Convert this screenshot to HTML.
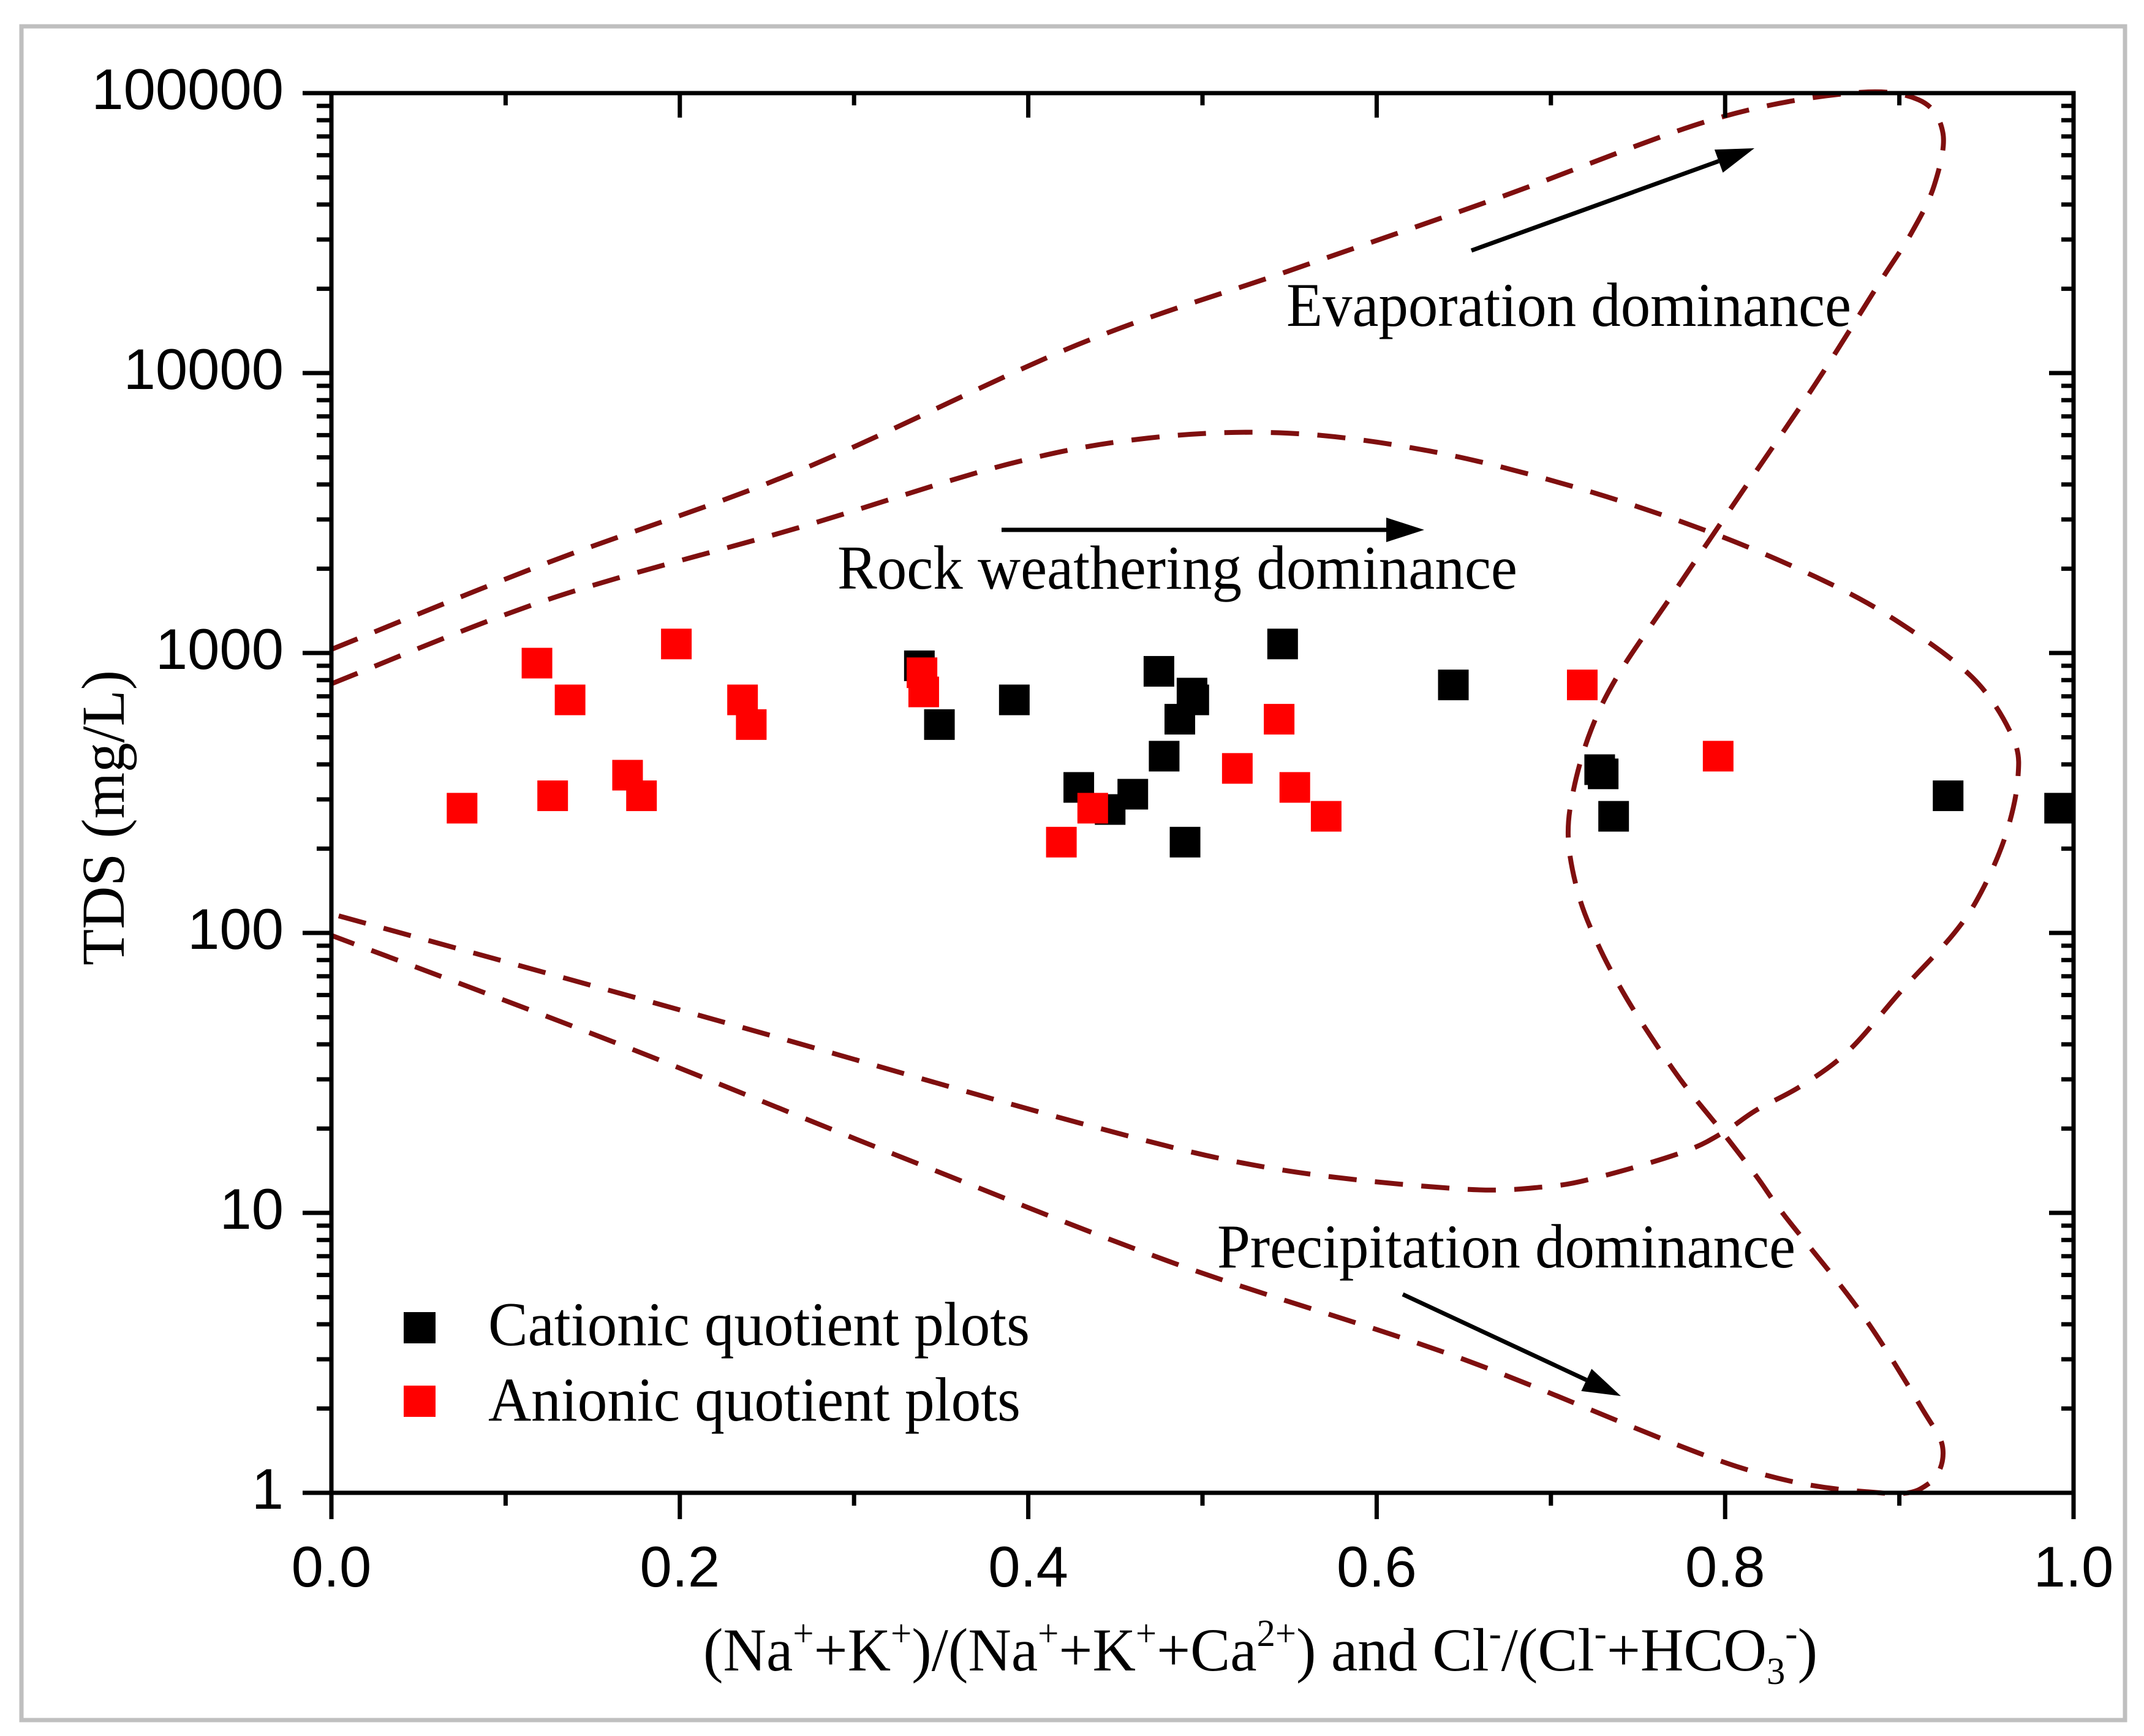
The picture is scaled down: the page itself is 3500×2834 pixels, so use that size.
<!DOCTYPE html>
<html><head><meta charset="utf-8"><style>
html,body{margin:0;padding:0;background:#fff;}
svg{display:block;}
.tick{font-family:"Liberation Sans",Arial,sans-serif;font-size:94px;fill:#000;}
.serif{font-family:"Liberation Serif","Times New Roman",serif;fill:#000;}
</style></head><body>
<svg id="chart" width="3500" height="2834" viewBox="0 0 3500 2834" xmlns="http://www.w3.org/2000/svg">
<rect x="35" y="43" width="3434" height="2765" fill="#fff" stroke="#bfbfbf" stroke-width="7"/>
<g id="curves"></g>
<g id="points"></g>
<g id="axes"></g>
<g>
<text class="serif" x="2100" y="532" font-size="102" textLength="922" lengthAdjust="spacingAndGlyphs">Evaporation dominance</text>
<text class="serif" x="1367" y="961" font-size="102" textLength="1110" lengthAdjust="spacingAndGlyphs">Rock weathering dominance</text>
<text class="serif" x="1987" y="2069" font-size="102" textLength="944" lengthAdjust="spacingAndGlyphs">Precipitation dominance</text>
<g id="arrows"></g>
</g>
<g>
<rect x="659" y="2142" width="52" height="51" fill="#000"/>
<text class="serif" x="797" y="2196" font-size="102" textLength="884" lengthAdjust="spacingAndGlyphs">Cationic quotient plots</text>
<rect x="659" y="2262" width="52" height="51" fill="#ff0000"/>
<text class="serif" x="797" y="2319" font-size="102" textLength="869" lengthAdjust="spacingAndGlyphs">Anionic quotient plots</text>
</g>
<text class="serif" font-size="100" text-anchor="middle" transform="translate(202,1335) rotate(-90)" textLength="482" lengthAdjust="spacingAndGlyphs">TDS (mg/L)</text>
<text class="serif" x="1148" y="2727" font-size="100" textLength="1819" lengthAdjust="spacingAndGlyphs">(Na<tspan font-size="62" dy="-40">+</tspan><tspan dy="40">+K</tspan><tspan font-size="62" dy="-40">+</tspan><tspan dy="40">)/(Na</tspan><tspan font-size="62" dy="-40">+</tspan><tspan dy="40">+K</tspan><tspan font-size="62" dy="-40">+</tspan><tspan dy="40">+Ca</tspan><tspan font-size="62" dy="-40">2+</tspan><tspan dy="40">) and Cl</tspan><tspan font-size="62" dy="-40">-</tspan><tspan dy="40">/(Cl</tspan><tspan font-size="62" dy="-40">-</tspan><tspan dy="40">+HCO</tspan><tspan font-size="62" dy="22">3</tspan><tspan font-size="62" dy="-62">-</tspan><tspan dy="40">)</tspan></text>
</svg>
<script>
// ---- data ----
const cationX = [0.3375,0.349,0.392,0.429,0.447,0.460,0.475,0.478,0.487,0.494,0.495,0.490,0.546,0.644,0.728,0.730,0.736,0.928,0.992];
const cationTDS = [900,555,680,331,276,313,860,428,580,719,680,211,1077,769,383,370,261,309,279];
const anionX = [0.075,0.118,0.127,0.137,0.170,0.178,0.198,0.236,0.241,0.339,0.340,0.419,0.437,0.520,0.544,0.553,0.571,0.718,0.796];
const anionTDS = [279,920,309,680,366,309,1077,680,555,850,726,211,279,387,580,331,261,769,428];
const outerX = [0,0.124,0.267,0.428,0.549,0.671,0.792,0.872,0.911,0.925,0.920,0.907,0.889,0.852,0.808,0.771,0.739,0.723,0.713,0.710,0.716,0.727,0.741,0.757,0.776,0.798,0.818,0.834,0.878,0.913,0.925,0.917,0.889,0.807,0.646,0.484,0.323,0.161,0];
const outerTDS = [1030,2100,4440,12600,23100,42500,80100,100000,94700,72100,46800,31700,21200,9180,3630,1660,843,530,325,216,136,91,62,43,29,19.6,13.5,9.8,4.4,2.0,1.43,1.08,1.0,1.24,3.06,6.6,16.2,41,98];
const innerX = [0,0.124,0.267,0.388,0.469,0.549,0.630,0.711,0.788,0.852,0.897,0.942,0.965,0.968,0.961,0.947,0.931,0.901,0.871,0.844,0.818,0.799,0.776,0.729,0.697,0.646,0.538,0.430,0.215,0];
const innerTDS = [776,1550,2790,4720,5860,6100,5270,3960,2750,1870,1320,817,501,354,223,140,99,62,38,28.5,23.3,19.4,16.5,13.5,12.4,12.2,14.5,20.9,50,117];
const xTicks = [0,0.2,0.4,0.6,0.8,1.0];
const xTickLabels = ["0.0","0.2","0.4","0.6","0.8","1.0"];
const yTicks = [1,10,100,1000,10000,100000];
const yTickLabels = ["1","10","100","1000","10000","100000"];

// ---- scales ----
const X0=541,X1=3385,Y0=2437,Y1=152;
function sx(v){return X0+v*(X1-X0);}
function sy(v){return Y0-(Math.log10(v)/5)*(Y0-Y1);}
const NS="http://www.w3.org/2000/svg";
function mk(tag,attrs,parent){const e=document.createElementNS(NS,tag);for(const k in attrs)e.setAttribute(k,attrs[k]);parent.appendChild(e);return e;}

function smooth(xs,ys){
  const p=xs.map((x,i)=>[sx(x),sy(ys[i])]);
  let d="M"+p[0][0]+","+p[0][1];
  for(let i=0;i<p.length-1;i++){
    const a=p[Math.max(0,i-1)],b=p[i],c=p[i+1],e=p[Math.min(p.length-1,i+2)];
    const c1=[b[0]+(c[0]-a[0])/6,b[1]+(c[1]-a[1])/6],c2=[c[0]-(e[0]-b[0])/6,c[1]-(e[1]-b[1])/6];
    d+=" C"+c1[0].toFixed(1)+","+c1[1].toFixed(1)+" "+c2[0].toFixed(1)+","+c2[1].toFixed(1)+" "+c[0].toFixed(1)+","+c[1].toFixed(1);
  }
  return d;
}
const cg=document.getElementById('curves');
const c1=mk('path',{d:smooth(outerX,outerTDS),fill:"none",stroke:"#7f0f0f","stroke-width":8,"stroke-dasharray":"46 30"},cg);


const c2=mk('path',{d:smooth(innerX,innerTDS),fill:"none",stroke:"#7f0f0f","stroke-width":8,"stroke-dasharray":"46 30"},cg);



const pg=document.getElementById('points');
const S=50;
cationX.forEach((x,i)=>{
  const r=mk('rect',{x:sx(x)-S/2,y:sy(cationTDS[i])-S/2,width:S,height:S,fill:"#000"},pg);
  
  
});
anionX.forEach((x,i)=>{
  const r=mk('rect',{x:sx(x)-S/2,y:sy(anionTDS[i])-S/2,width:S,height:S,fill:"#ff0000"},pg);
  
  
});

const ag=document.getElementById('arrows');
function arrow(x1,y1,x2,y2,name){
  const g=mk('g',{},ag);
  
  
  const dx=x2-x1,dy=y2-y1,L=Math.hypot(dx,dy),ux=dx/L,uy=dy/L,h=62,w=20;
  const bx=x2-ux*h,by=y2-uy*h;
  mk('line',{x1:x1,y1:y1,x2:bx,y2:by,stroke:"#000","stroke-width":7},g);
  mk('polygon',{points:`${x2},${y2} ${bx-uy*w},${by+ux*w} ${bx+uy*w},${by-ux*w}`,fill:"#000"},g);
}
arrow(2402,409,2864,242,'evaporation-arrow');
arrow(1635,865,2325,865,'rock-weathering-arrow');
arrow(2290,2113,2646,2279,'precipitation-arrow');

const ax=document.getElementById('axes');
const LW=7;
const frame=mk('rect',{x:X0,y:Y1,width:X1-X0,height:Y0-Y1,fill:"none",stroke:"#000","stroke-width":LW},ax);


for(let i=0;i<=10;i++){
  const v=i/10,x=sx(v),maj=(i%2===0);
  mk('line',{x1:x,y1:Y0,x2:x,y2:Y0+(maj?43:21),stroke:"#000","stroke-width":LW},ax);
  mk('line',{x1:x,y1:Y1,x2:x,y2:Y1+(maj?40:20),stroke:"#000","stroke-width":LW},ax);
}
for(let e=0;e<5;e++){
  for(let m=1;m<=9;m++){
    const v=Math.pow(10,e)*m,y=sy(v),maj=(m===1);
    mk('line',{x1:X0,y1:y,x2:X0-(maj?47:24),y2:y,stroke:"#000","stroke-width":LW},ax);
    mk('line',{x1:X1,y1:y,x2:X1-(maj?40:20),y2:y,stroke:"#000","stroke-width":LW},ax);
  }
}
mk('line',{x1:X0,y1:Y1,x2:X0-47,y2:Y1,stroke:"#000","stroke-width":LW},ax);
mk('line',{x1:X1,y1:Y1,x2:X1-40,y2:Y1,stroke:"#000","stroke-width":LW},ax);
xTicks.forEach((v,i)=>{
  const t=mk('text',{x:sx(v),y:2590,"text-anchor":"middle",class:"tick"},ax);
  t.textContent=xTickLabels[i];
  
  
});
yTicks.forEach((v,i)=>{
  const t=mk('text',{x:463,y:sy(v)+26,"text-anchor":"end",class:"tick"},ax);
  t.textContent=yTickLabels[i];
  
  
});
</script>
</body></html>
